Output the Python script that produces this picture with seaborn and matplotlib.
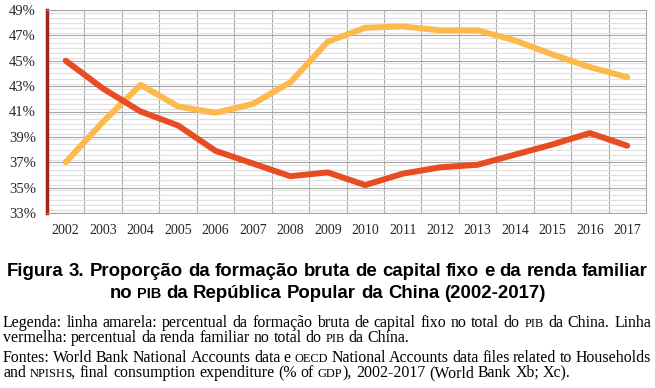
import re
import numpy as np
import pandas as pd
import matplotlib
matplotlib.use('Agg')
import matplotlib.pyplot as plt
import seaborn as sns
from matplotlib.ticker import MultipleLocator, FuncFormatter

# dados (% do PIB)
anos = list(range(2002, 2018))
formacao_bruta = [37.0, 40.2, 43.1, 41.4, 40.9, 41.6, 43.3, 46.5,
                  47.6, 47.7, 47.4, 47.4, 46.6, 45.5, 44.5, 43.7]
renda_familiar = [45.0, 42.8, 41.0, 39.9, 37.9, 36.9, 35.9, 36.2,
                  35.2, 36.1, 36.6, 36.8, 37.6, 38.4, 39.3, 38.3]
series = ['Formação bruta de capital fixo', 'Renda familiar']
cores = ['#fdb94b', '#e84c22']
yticks = list(range(33, 50, 2))

titulo = ['Figura 3. Proporção da formação bruta de capital fixo e da renda familiar',
          'no {PIB} da República Popular da China (2002-2017)']
legenda = [('Legenda: linha amarela: percentual da formação bruta de capital fixo no total do {PIB} da China. Linha', 'justify'),
           ('vermelha: percentual da renda familiar no total do {PIB} da China.', 'left'),
           ('Fontes: World Bank National Accounts data e {OECD} National Accounts data files related to Households', 'justify'),
           ('and {NPISH}s, final consumption expenditure (% of {GDP}), 2002-2017 (World Bank Xb; Xc).', 'left')]

df = pd.DataFrame({'Ano': anos * 2,
                   'Valor': formacao_bruta + renda_familiar,
                   'Serie': [series[0]] * len(anos) + [series[1]] * len(anos)})

sns.set_style('white')
plt.rcParams['font.family'] = ['Liberation Serif', 'DejaVu Serif']

fig = plt.figure(figsize=(6.55, 3.88), dpi=100)
W, H = 655, 388
ax = fig.add_axes([47 / W, 1 - 213 / H, (646 - 47) / W, (213 - 10) / H])

sns.lineplot(data=df, x='Ano', y='Valor', hue='Serie', palette=cores,
             linewidth=4.3, legend=False, ax=ax,
             solid_capstyle='round', solid_joinstyle='round')

ax.set_xlim(2001.5, 2017.5)
ax.set_ylim(33, 49)
ax.set_xticks(anos)
ax.set_xticks(np.arange(2002.5, 2017.5, 1), minor=True)
ax.set_yticks(yticks)
ax.yaxis.set_minor_locator(MultipleLocator(0.4))
ax.yaxis.set_major_formatter(FuncFormatter(lambda v, p: f'{v:.0f}%'))
ax.set_xlabel('')
ax.set_ylabel('')
ax.tick_params(which='both', length=0)
ax.tick_params(axis='x', pad=8, labelsize=10)
ax.tick_params(axis='y', pad=8, labelsize=10.5)

ax.set_axisbelow(True)
ax.grid(which='major', axis='y', color='#a6a6a6', linewidth=0.8)
ax.grid(which='minor', axis='y', color='#e0e0e0', linewidth=0.8)
ax.grid(which='minor', axis='x', color='#aaaaaa', linewidth=0.8)
ax.grid(which='major', axis='x', visible=False)
for s in ['top', 'right', 'bottom']:
    ax.spines[s].set_color('#a6a6a6')
    ax.spines[s].set_linewidth(0.8)
ax.spines['left'].set_color('#a8201a')
ax.spines['left'].set_linewidth(2.5)

# texto com versaletes ({...}) e alinhamento
r = fig.canvas.get_renderer()


def medir(s, sz, family, weight):
    t = fig.text(0, 0, s, fontsize=sz, family=family, weight=weight)
    w = t.get_window_extent(r).width
    t.remove()
    return w


def partes(texto, sz):
    palavras = []
    for w in texto.split(' '):
        pp = []
        for part in re.split(r'(\{[^}]*\})', w):
            if not part:
                continue
            if part.startswith('{'):
                pp.append((part[1:-1].upper(), sz * 0.78))
            else:
                pp.append((part, sz))
        palavras.append(pp)
    return palavras


def largura(texto, sz, family, weight):
    pal = partes(texto, sz)
    esp = medir('x x', sz, family, weight) - medir('xx', sz, family, weight)
    tot = sum(medir(s, z, family, weight) for pp in pal for s, z in pp)
    return tot + esp * (len(pal) - 1)


def linha(texto, y, x0, x1, modo, sz, family, weight='normal'):
    pal = partes(texto, sz)
    esp = medir('x x', sz, family, weight) - medir('xx', sz, family, weight)
    larg = [[medir(s, z, family, weight) for s, z in pp] for pp in pal]
    tot = sum(sum(l) for l in larg)
    if modo == 'justify':
        gap = (x1 - x0 - tot) / (len(pal) - 1)
        x = x0
    else:
        gap = esp
        natural = tot + esp * (len(pal) - 1)
        x = x0 if modo == 'left' else (x0 + x1) / 2 - natural / 2
    for pp, ll in zip(pal, larg):
        for (s, z), l in zip(pp, ll):
            fig.text(x / W, 1 - y / H, s, fontsize=z, family=family,
                     weight=weight, ha='left', va='baseline', color='black')
            x += l
        x += gap


sans = ['Liberation Sans', 'DejaVu Sans']
serif = ['Liberation Serif', 'DejaVu Serif']
tam_t = 12 * 639 / largura(titulo[0], 12, sans, 'bold')
linha(titulo[0], 276, 8, 647, 'center', tam_t, sans, 'bold')
linha(titulo[1], 298, 8, 647, 'center', tam_t, sans, 'bold')

tam_l = 10 * 640 / largura(legenda[0][0], 10, serif, 'normal')
for (txt, modo), y in zip(legenda, [327, 342, 362, 377]):
    linha(txt, y, 3, 651, modo, tam_l, serif)

fig.savefig('out.png', dpi=100)
